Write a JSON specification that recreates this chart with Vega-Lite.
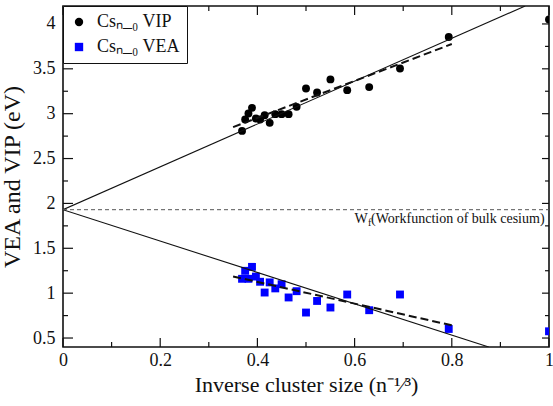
{
  "$schema": "https://vega.github.io/schema/vega-lite/v6.json",
  "autosize": "none",
  "width": 486,
  "height": 341,
  "padding": {"left": 63, "top": 6, "right": 4, "bottom": 59},
  "background": "white",
  "config": {
    "view": {"stroke": "#111", "strokeWidth": 1.6},
    "font": "Liberation Serif",
    "axis": {"grid": false, "domain": false, "ticks": false, "labelFont": "Liberation Serif", "titleFont": "Liberation Serif", "labelColor": "#111", "titleColor": "#111", "titleFontWeight": "normal"}
  },
  "datasets": {
    "pts": [
      {"x": 1.0, "y": 4.05, "s": "VIP"},
      {"x": 0.7937, "y": 3.854, "s": "VIP"},
      {"x": 0.6934, "y": 3.504, "s": "VIP"},
      {"x": 0.63, "y": 3.296, "s": "VIP"},
      {"x": 0.5848, "y": 3.262, "s": "VIP"},
      {"x": 0.5503, "y": 3.382, "s": "VIP"},
      {"x": 0.5228, "y": 3.236, "s": "VIP"},
      {"x": 0.5, "y": 3.281, "s": "VIP"},
      {"x": 0.4807, "y": 3.076, "s": "VIP"},
      {"x": 0.4642, "y": 2.995, "s": "VIP"},
      {"x": 0.4498, "y": 2.995, "s": "VIP"},
      {"x": 0.4368, "y": 2.995, "s": "VIP"},
      {"x": 0.4253, "y": 2.898, "s": "VIP"},
      {"x": 0.4149, "y": 2.983, "s": "VIP"},
      {"x": 0.4055, "y": 2.935, "s": "VIP"},
      {"x": 0.3969, "y": 2.946, "s": "VIP"},
      {"x": 0.3889, "y": 3.065, "s": "VIP"},
      {"x": 0.3816, "y": 3.002, "s": "VIP"},
      {"x": 0.3748, "y": 2.935, "s": "VIP"},
      {"x": 0.3684, "y": 2.808, "s": "VIP"},
      {"x": 1.0, "y": 0.575, "s": "VEA"},
      {"x": 0.7937, "y": 0.601, "s": "VEA"},
      {"x": 0.6934, "y": 0.985, "s": "VEA"},
      {"x": 0.63, "y": 0.81, "s": "VEA"},
      {"x": 0.5848, "y": 0.985, "s": "VEA"},
      {"x": 0.5503, "y": 0.84, "s": "VEA"},
      {"x": 0.5228, "y": 0.913, "s": "VEA"},
      {"x": 0.5, "y": 0.784, "s": "VEA"},
      {"x": 0.4807, "y": 1.022, "s": "VEA"},
      {"x": 0.4642, "y": 0.952, "s": "VEA"},
      {"x": 0.4498, "y": 1.1, "s": "VEA"},
      {"x": 0.4368, "y": 1.053, "s": "VEA"},
      {"x": 0.4253, "y": 1.12, "s": "VEA"},
      {"x": 0.4149, "y": 1.007, "s": "VEA"},
      {"x": 0.4055, "y": 1.127, "s": "VEA"},
      {"x": 0.3969, "y": 1.185, "s": "VEA"},
      {"x": 0.3889, "y": 1.293, "s": "VEA"},
      {"x": 0.3816, "y": 1.16, "s": "VEA"},
      {"x": 0.3748, "y": 1.249, "s": "VEA"},
      {"x": 0.3684, "y": 1.16, "s": "VEA"}
    ],
    "extrap": [
      {"fit": "VIP", "x": 0, "y": 1.93},
      {"fit": "VIP", "x": 0.951, "y": 4.2},
      {"fit": "VEA", "x": 0, "y": 1.93},
      {"fit": "VEA", "x": 0.876, "y": 0.4}
    ],
    "fits": [
      {"fit": "VIP", "x": 0.35, "y": 2.85},
      {"fit": "VIP", "x": 0.80, "y": 3.776},
      {"fit": "VEA", "x": 0.35, "y": 1.186},
      {"fit": "VEA", "x": 0.80, "y": 0.642}
    ],
    "xmaj": [{"v": 0}, {"v": 0.2}, {"v": 0.4}, {"v": 0.6}, {"v": 0.8}, {"v": 1}],
    "xmin": [{"v": 0.1}, {"v": 0.3}, {"v": 0.5}, {"v": 0.7}, {"v": 0.9}],
    "ymaj": [{"v": 0.5}, {"v": 1}, {"v": 1.5}, {"v": 2}, {"v": 2.5}, {"v": 3}, {"v": 3.5}, {"v": 4}],
    "ymin": [{"v": 0.75}, {"v": 1.25}, {"v": 1.75}, {"v": 2.25}, {"v": 2.75}, {"v": 3.25}, {"v": 3.75}]
  },
  "layer": [
    {
      "data": {"name": "pts"},
      "mark": {"type": "point", "filled": true, "opacity": 1, "size": 62, "clip": true},
      "encoding": {
        "x": {"field": "x", "type": "quantitative", "scale": {"domain": [0, 1], "nice": false, "zero": false},
          "axis": {"orient": "bottom", "values": [0, 0.2, 0.4, 0.6, 0.8, 1], "format": "~g", "ticks": false,
            "labelFontSize": 18, "labelPadding": 4, "labelFlush": false,
            "title": "Inverse cluster size (n⁻¹⁄³)", "titleFontSize": 22, "titlePadding": 5}},
        "y": {"field": "y", "type": "quantitative", "scale": {"domain": [0.4, 4.2], "nice": false, "zero": false},
          "axis": {"orient": "left", "values": [0.5, 1, 1.5, 2, 2.5, 3, 3.5, 4], "format": "~g", "ticks": false,
            "labelFontSize": 18, "labelPadding": 8, "labelFlush": false,
            "title": "VEA and VIP (eV)", "titleFontSize": 24, "titlePadding": 8}},
        "color": {"field": "s", "type": "nominal", "scale": {"domain": ["VIP", "VEA"], "range": ["#000000", "#0000ff"]},
          "legend": {"orient": "top-left", "offset": 0, "title": null, "strokeColor": "#111", "fillColor": "white", "padding": 7,
            "labelFont": "Liberation Serif", "labelFontSize": 18, "labelColor": "#111", "labelOffset": 9, "rowPadding": 7, "symbolSize": 70,
            "labelExpr": "'Csₙ_₀ ' + datum.label"}},
        "shape": {"field": "s", "type": "nominal", "scale": {"domain": ["VIP", "VEA"], "range": ["circle", "square"]},
          "legend": {"orient": "top-left", "offset": 0, "title": null, "strokeColor": "#111", "fillColor": "white", "padding": 7,
            "labelFont": "Liberation Serif", "labelFontSize": 18, "labelColor": "#111", "labelOffset": 9, "rowPadding": 7, "symbolSize": 70,
            "labelExpr": "'Csₙ_₀ ' + datum.label"}}
      }
    },
    {
      "data": {"name": "extrap"},
      "mark": {"type": "line", "color": "#111", "strokeWidth": 1.1, "clip": true},
      "encoding": {
        "x": {"field": "x", "type": "quantitative"},
        "y": {"field": "y", "type": "quantitative"},
        "detail": {"field": "fit"}
      }
    },
    {
      "data": {"name": "fits"},
      "mark": {"type": "line", "color": "#111", "strokeWidth": 2, "strokeDash": [8, 4], "clip": true},
      "encoding": {
        "x": {"field": "x", "type": "quantitative"},
        "y": {"field": "y", "type": "quantitative"},
        "detail": {"field": "fit"}
      }
    },
    {
      "data": {"values": [{}]},
      "mark": {"type": "rule", "color": "#555", "strokeWidth": 1, "strokeDash": [4, 3]},
      "encoding": {
        "x": {"datum": 0, "type": "quantitative"},
        "x2": {"datum": 1},
        "y": {"datum": 1.93, "type": "quantitative"}
      }
    },
    {
      "data": {"name": "xmaj"},
      "mark": {"type": "rule", "color": "#111", "strokeWidth": 1.2},
      "encoding": {"x": {"field": "v", "type": "quantitative"}, "y": {"datum": 0.4, "type": "quantitative"}, "y2": {"datum": 0.5}}
    },
    {
      "data": {"name": "xmin"},
      "mark": {"type": "rule", "color": "#111", "strokeWidth": 1.2},
      "encoding": {"x": {"field": "v", "type": "quantitative"}, "y": {"datum": 0.4, "type": "quantitative"}, "y2": {"datum": 0.456}}
    },
    {
      "data": {"name": "xmaj"},
      "mark": {"type": "rule", "color": "#111", "strokeWidth": 1.2},
      "encoding": {"x": {"field": "v", "type": "quantitative"}, "y": {"datum": 4.2, "type": "quantitative"}, "y2": {"datum": 4.1}}
    },
    {
      "data": {"name": "xmin"},
      "mark": {"type": "rule", "color": "#111", "strokeWidth": 1.2},
      "encoding": {"x": {"field": "v", "type": "quantitative"}, "y": {"datum": 4.2, "type": "quantitative"}, "y2": {"datum": 4.144}}
    },
    {
      "data": {"name": "ymaj"},
      "mark": {"type": "rule", "color": "#111", "strokeWidth": 1.2},
      "encoding": {"y": {"field": "v", "type": "quantitative"}, "x": {"datum": 0, "type": "quantitative"}, "x2": {"datum": 0.0206}}
    },
    {
      "data": {"name": "ymin"},
      "mark": {"type": "rule", "color": "#111", "strokeWidth": 1.2},
      "encoding": {"y": {"field": "v", "type": "quantitative"}, "x": {"datum": 0, "type": "quantitative"}, "x2": {"datum": 0.0103}}
    },
    {
      "data": {"name": "ymaj"},
      "mark": {"type": "rule", "color": "#111", "strokeWidth": 1.2},
      "encoding": {"y": {"field": "v", "type": "quantitative"}, "x": {"datum": 1, "type": "quantitative"}, "x2": {"datum": 0.9856}}
    },
    {
      "data": {"name": "ymin"},
      "mark": {"type": "rule", "color": "#111", "strokeWidth": 1.2},
      "encoding": {"y": {"field": "v", "type": "quantitative"}, "x": {"datum": 1, "type": "quantitative"}, "x2": {"datum": 0.9918}}
    },
    {
      "data": {"values": [{}]},
      "mark": {"type": "text", "text": "W", "align": "left", "baseline": "alphabetic", "dy": 13, "fontSize": 14, "font": "Liberation Serif", "color": "#111"},
      "encoding": {
        "x": {"datum": 0.6, "type": "quantitative"},
        "y": {"datum": 1.93, "type": "quantitative"}
      }
    },
    {
      "data": {"values": [{}]},
      "mark": {"type": "text", "text": "f", "align": "left", "baseline": "alphabetic", "dx": 13.5, "dy": 16.5, "fontSize": 10, "font": "Liberation Serif", "color": "#111"},
      "encoding": {
        "x": {"datum": 0.6, "type": "quantitative"},
        "y": {"datum": 1.93, "type": "quantitative"}
      }
    },
    {
      "data": {"values": [{}]},
      "mark": {"type": "text", "text": " (Workfunction of bulk cesium)", "align": "left", "baseline": "alphabetic", "dx": 16.5, "dy": 13, "fontSize": 14, "font": "Liberation Serif", "color": "#111"},
      "encoding": {
        "x": {"datum": 0.6, "type": "quantitative"},
        "y": {"datum": 1.93, "type": "quantitative"}
      }
    }
  ]
}
